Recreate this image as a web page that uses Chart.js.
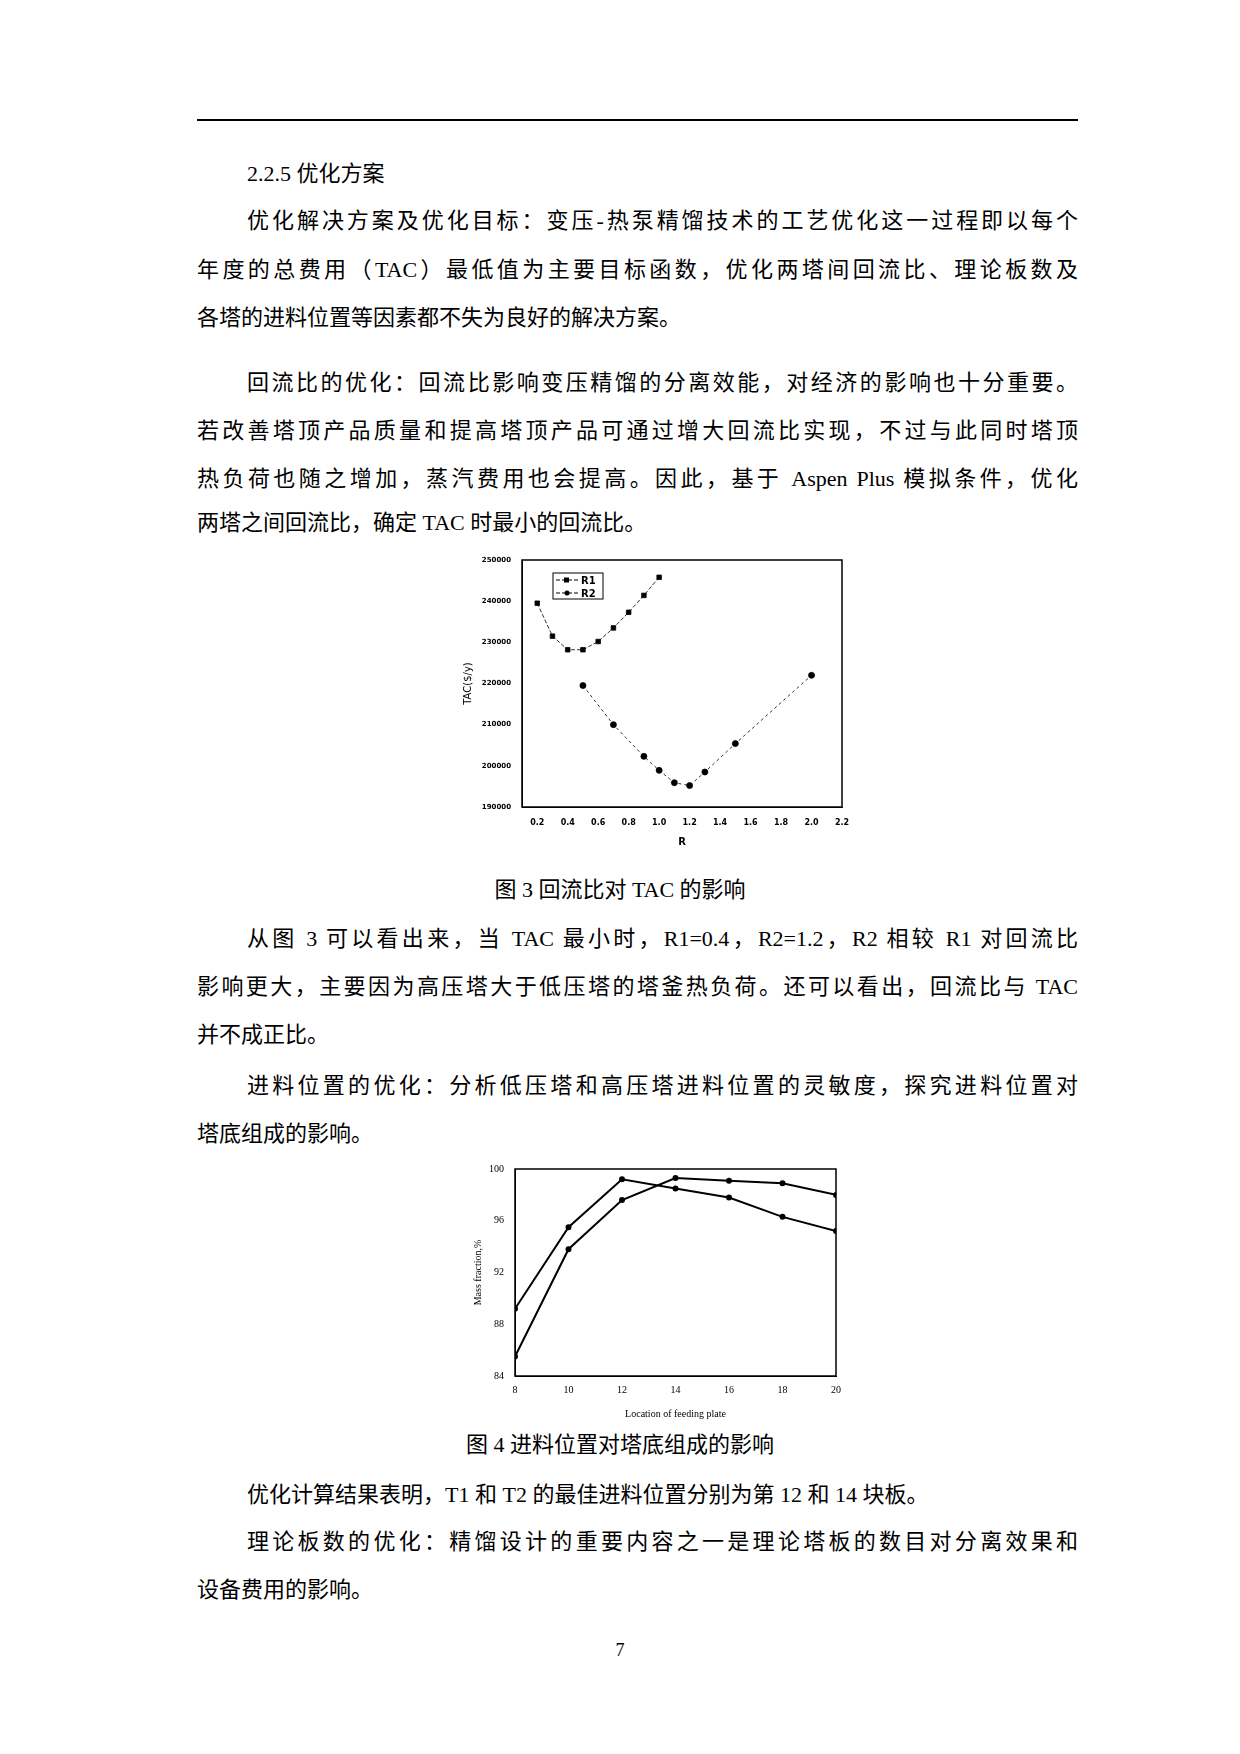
<!DOCTYPE html>
<html><head><meta charset="utf-8">
<script src="https://cdn.jsdelivr.net/npm/chart.js@4/dist/chart.umd.min.js"></script>
<style>
body{margin:0;width:1240px;height:1754px;background:#fff;position:relative;font-family:"Liberation Serif","Noto Sans CJK SC",serif;color:#000}
.rule{position:absolute;left:197px;width:881px;top:119px;border-top:2px solid #000}
.ln{position:absolute;left:197px;width:881px;font-size:22px;line-height:30px;white-space:nowrap}
.j{text-align:justify;text-align-last:justify}
.in{left:247px;width:831px}
.cap{position:absolute;left:0;width:1240px;text-align:center;font-size:22px;line-height:30px}
.box{position:absolute}
</style></head><body>
<div class="rule"></div>
<div class="ln in" style="top:159px">2.2.5 优化方案</div>
<div class="ln in j" style="top:206px">优化解决方案及优化目标：变压-热泵精馏技术的工艺优化这一过程即以每个</div>
<div class="ln j" style="top:255px">年度的总费用（TAC）最低值为主要目标函数，优化两塔间回流比、理论板数及</div>
<div class="ln" style="top:303px">各塔的进料位置等因素都不失为良好的解决方案。</div>
<div class="ln in j" style="top:368px">回流比的优化：回流比影响变压精馏的分离效能，对经济的影响也十分重要。</div>
<div class="ln j" style="top:416px">若改善塔顶产品质量和提高塔顶产品可通过增大回流比实现，不过与此同时塔顶</div>
<div class="ln j" style="top:464px">热负荷也随之增加，蒸汽费用也会提高。因此，基于 Aspen Plus 模拟条件，优化</div>
<div class="ln" style="top:508px">两塔之间回流比，确定 TAC 时最小的回流比。</div>
<div class="box" style="left:460px;top:550px;width:400px;height:300px"><canvas id="c1"></canvas></div>
<div class="cap" style="top:875px">图 3 回流比对 TAC 的影响</div>
<div class="ln in j" style="top:924px">从图 3 可以看出来，当 TAC 最小时，R1=0.4，R2=1.2，R2 相较 R1 对回流比</div>
<div class="ln j" style="top:972px">影响更大，主要因为高压塔大于低压塔的塔釜热负荷。还可以看出，回流比与 TAC</div>
<div class="ln" style="top:1020px">并不成正比。</div>
<div class="ln in j" style="top:1071px">进料位置的优化：分析低压塔和高压塔进料位置的灵敏度，探究进料位置对</div>
<div class="ln" style="top:1119px">塔底组成的影响。</div>
<div class="box" style="left:470px;top:1160px;width:380px;height:262px"><canvas id="c2"></canvas></div>
<div class="cap" style="top:1430px">图 4 进料位置对塔底组成的影响</div>
<div class="ln in" style="top:1480px">优化计算结果表明，T1 和 T2 的最佳进料位置分别为第 12 和 14 块板。</div>
<div class="ln in j" style="top:1527px">理论板数的优化：精馏设计的重要内容之一是理论塔板的数目对分离效果和</div>
<div class="ln" style="top:1575px">设备费用的影响。</div>
<div class="cap" style="top:1635px;font-size:18px">7</div>
<script>
const r1X = [0.2, 0.3, 0.4, 0.5, 0.6, 0.7, 0.8, 0.9, 1.0];
const r1Y = [239500, 231500, 228200, 228200, 230200, 233500, 237300, 241400, 245800];
const r2X = [0.5, 0.7, 0.9, 1.0, 1.1, 1.2, 1.3, 1.5, 2.0];
const r2Y = [219500, 210000, 202300, 198900, 195900, 195200, 198500, 205400, 222000];
const rTicks = [0.2, 0.4, 0.6, 0.8, 1.0, 1.2, 1.4, 1.6, 1.8, 2.0, 2.2];
const tacTicks = [190000, 200000, 210000, 220000, 230000, 240000, 250000];

const plateX = [8, 10, 12, 14, 16, 18, 20];
const t1Y = [89.2, 95.5, 99.2, 98.5, 97.8, 96.3, 95.2];
const t2Y = [85.5, 93.8, 97.6, 99.3, 99.1, 98.9, 98.0];
const massTicks = [84, 88, 92, 96, 100];

const frame = {
    id: 'frame',
    afterDraw(chart) {
        const a = chart.chartArea, ctx = chart.ctx;
        ctx.save();
        ctx.strokeStyle = '#000';
        ctx.lineWidth = 1.5;
        ctx.strokeRect(a.left, a.top, a.right - a.left, a.bottom - a.top);
        ctx.restore();
    }
};

const legendBox = {
    id: 'legendBox',
    afterDraw(chart) {
        if (chart.canvas.id !== 'c1') return;
        const a = chart.chartArea, ctx = chart.ctx;
        const x = a.left + 31, y = a.top + 13;
        ctx.save();
        ctx.strokeStyle = '#000';
        ctx.lineWidth = 1;
        ctx.strokeRect(x, y, 50, 26);
        ctx.font = 'bold 10px "DejaVu Sans"';
        ctx.fillStyle = '#000';
        [['R1', 'rect'], ['R2', 'circle']].forEach(([t, s], i) => {
            const yy = y + 7 + i * 13;
            ctx.setLineDash([4, 2]);
            ctx.beginPath(); ctx.moveTo(x + 3, yy); ctx.lineTo(x + 25, yy); ctx.stroke();
            ctx.setLineDash([]);
            if (s === 'rect') ctx.fillRect(x + 11, yy - 2.5, 5, 5);
            else { ctx.beginPath(); ctx.arc(x + 14, yy, 2.5, 0, 7); ctx.fill(); }
            ctx.fillText(t, x + 28, yy + 4);
        });
        ctx.restore();
    }
};

const fixTicks = (list) => (s) => { s.ticks = list.map(v => ({ value: v })); };

new Chart(document.getElementById('c1'), {
    type: 'scatter',
    data: {
        datasets: [{
            label: 'R1',
            data: r1X.map((x, i) => ({ x: x, y: r1Y[i] })),
            showLine: true,
            borderColor: '#000',
            backgroundColor: '#000',
            borderWidth: 0.8,
            borderDash: [4, 2],
            pointStyle: 'rect',
            pointRadius: 3.2,
        }, {
            label: 'R2',
            data: r2X.map((x, i) => ({ x: x, y: r2Y[i] })),
            showLine: true,
            borderColor: '#000',
            backgroundColor: '#000',
            borderWidth: 0.8,
            borderDash: [3, 3],
            pointStyle: 'circle',
            pointRadius: 3,
        }]
    },
    options: {
        responsive: true,
        maintainAspectRatio: false,
        animation: false,
        layout: { padding: { top: 10, right: 18 } },
        plugins: { legend: { display: false }, tooltip: { enabled: false } },
        scales: {
            x: {
                type: 'linear', min: 0.1, max: 2.2,
                afterBuildTicks: fixTicks(rTicks),
                afterFit: s => { s.height = 43; },
                grid: { display: false },
                border: { color: '#000' },
                ticks: { color: '#000', font: { size: 8, weight: 'bold', family: 'DejaVu Sans' }, callback: v => v.toFixed(1) },
                title: { display: true, text: 'R', color: '#000', font: { size: 10, weight: 'bold', family: 'DejaVu Sans' }, padding: 2 }
            },
            y: {
                min: 190000, max: 250000,
                afterBuildTicks: fixTicks(tacTicks),
                afterFit: s => { s.width = 62; },
                grid: { display: false },
                border: { color: '#000' },
                ticks: { color: '#000', font: { size: 7, weight: 'bold', family: 'DejaVu Sans' }, callback: v => String(v) },
                title: { display: true, text: 'TAC($/y)', color: '#000', font: { size: 10, family: 'DejaVu Sans' }, padding: 2 }
            }
        }
    },
    plugins: [frame, legendBox]
});

new Chart(document.getElementById('c2'), {
    type: 'scatter',
    data: {
        datasets: [t1Y, t2Y].map(ys => ({
            data: plateX.map((x, i) => ({ x: x, y: ys[i] })),
            showLine: true,
            borderColor: '#000',
            backgroundColor: '#000',
            borderWidth: 2,
            pointRadius: 2,
        }))
    },
    options: {
        responsive: true,
        maintainAspectRatio: false,
        animation: false,
        layout: { padding: { top: 6, right: 14 } },
        plugins: { legend: { display: false }, tooltip: { enabled: false } },
        scales: {
            x: {
                type: 'linear', min: 8, max: 20,
                afterBuildTicks: fixTicks(plateX),
                afterFit: s => { s.height = 46; },
                grid: { display: false },
                border: { color: '#000' },
                ticks: { color: '#000', padding: 0, font: { size: 10, family: 'Liberation Serif' } },
                title: { display: true, text: 'Location of feeding plate', color: '#000', font: { size: 10, family: 'Liberation Serif' }, padding: 2 }
            },
            y: {
                min: 84, max: 100,
                afterBuildTicks: fixTicks(massTicks),
                afterFit: s => { s.width = 45; },
                grid: { display: false },
                border: { color: '#000' },
                ticks: { color: '#000', font: { size: 10, family: 'Liberation Serif' } },
                title: { display: true, text: 'Mass fraction,%', color: '#000', font: { size: 10, family: 'Liberation Serif' }, padding: 2 }
            }
        }
    },
    plugins: [frame]
});
</script>
</body></html>
